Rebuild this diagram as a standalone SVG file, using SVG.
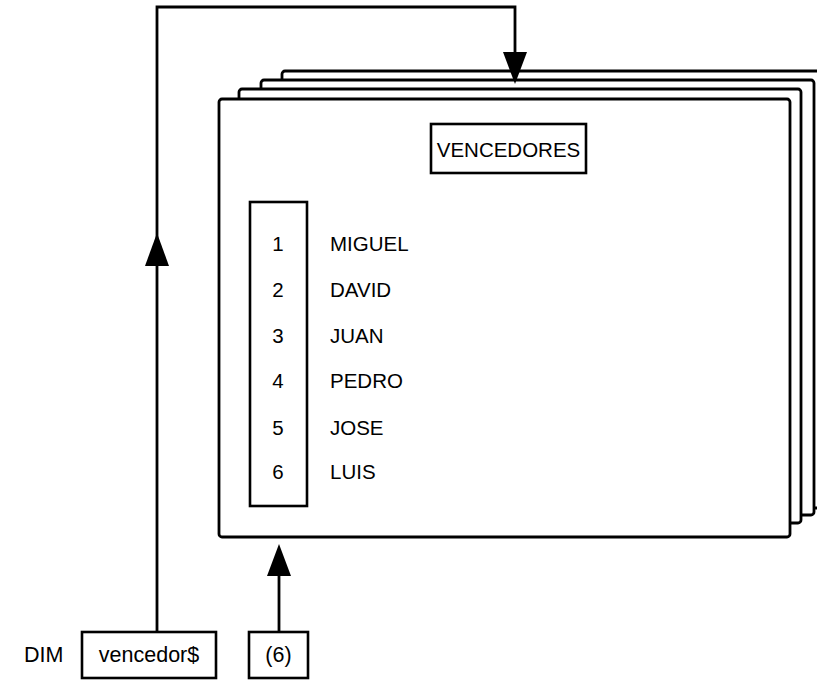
<svg xmlns="http://www.w3.org/2000/svg" width="817" height="680" viewBox="0 0 817 680">
<style>
.sheet{fill:#fff;stroke:#000;stroke-width:2.8}
.box{fill:#fff;stroke:#000;stroke-width:2.6}
.ln{fill:none;stroke:#000;stroke-width:2.8}
.t{font-family:"Liberation Sans",Arial,Helvetica,sans-serif;font-size:20.5px;fill:#000}
.b{font-family:"Liberation Sans",Arial,Helvetica,sans-serif;font-size:21.5px;fill:#000}
</style>
<g id="sheets">
<rect class="sheet" x="282" y="71" width="560" height="437" rx="3"/>
<rect class="sheet" x="261" y="80" width="553" height="435" rx="3"/>
<rect class="sheet" x="239" y="89" width="562" height="434" rx="3"/>
<rect class="sheet" x="219" y="99" width="571" height="438" rx="3"/>
</g>
<g id="title">
<rect class="box" x="431" y="124" width="155" height="49"/>
<text class="t" x="508.5" y="157" text-anchor="middle">VENCEDORES</text>
</g>
<g id="index-box">
<rect class="box" x="250" y="202" width="57" height="304"/>
<g class="t" text-anchor="middle">
<text x="278" y="251">1</text>
<text x="278" y="297">2</text>
<text x="278" y="343">3</text>
<text x="278" y="388">4</text>
<text x="278" y="435">5</text>
<text x="278" y="479">6</text>
</g>
</g>
<g id="names" class="t">
<text x="330" y="251">MIGUEL</text>
<text x="330" y="297">DAVID</text>
<text x="330" y="343">JUAN</text>
<text x="330" y="388">PEDRO</text>
<text x="330" y="435">JOSE</text>
<text x="330" y="479">LUIS</text>
</g>
<g id="dim">
<text class="b" x="24" y="662">DIM</text>
</g>
<g id="var">
<rect class="box" x="82" y="632" width="134" height="46"/>
<text class="b" x="149" y="662" text-anchor="middle">vencedor$</text>
</g>
<g id="size">
<rect class="box" x="249" y="632" width="59" height="46"/>
<text class="b" x="278.5" y="662" text-anchor="middle">(6)</text>
</g>
<g id="connectors">
<path class="ln" d="M157,632 V7 H515 V56"/>
<path d="M503,52 L527,52 L515,84 Z" fill="#000"/>
<path d="M145,266 L169,266 L157,233 Z" fill="#000"/>
<path class="ln" d="M279,632 V572"/>
<path d="M267,576 L291,576 L279,544 Z" fill="#000"/>
</g>
</svg>
